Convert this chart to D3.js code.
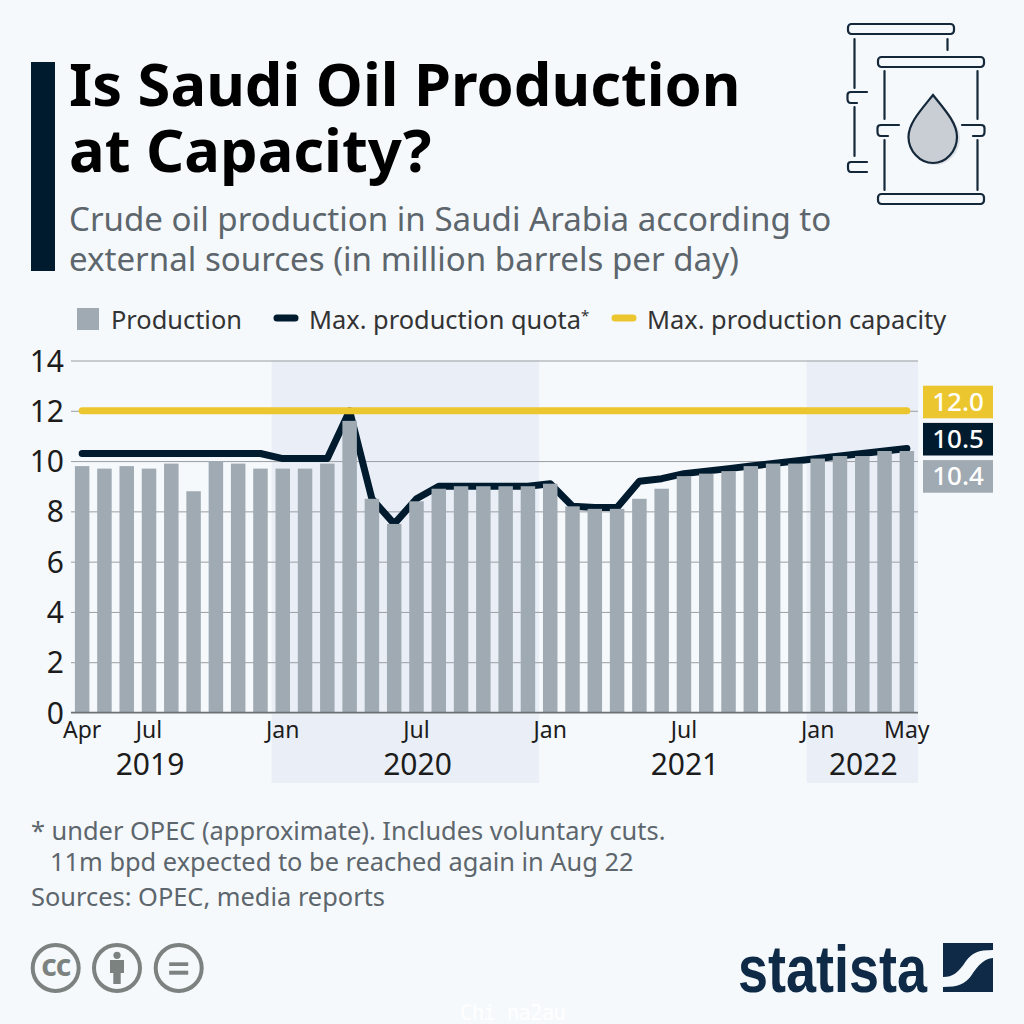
<!DOCTYPE html>
<html>
<head>
<meta charset="utf-8">
<script src="https://cdnjs.cloudflare.com/ajax/libs/d3/7.8.5/d3.min.js"></script>
<style>
html, body { margin: 0; padding: 0; background: #f5f9fc; }
svg { display: block; }
text { font-family: "Noto Sans", "Open Sans", sans-serif; }
</style>
</head>
<body>
<svg id="chart" width="1024" height="1024"></svg>
<script>
//data//
var months = ["Apr19","May19","Jun19","Jul19","Aug19","Sep19","Oct19","Nov19","Dec19",
              "Jan20","Feb20","Mar20","Apr20","May20","Jun20","Jul20","Aug20","Sep20","Oct20","Nov20","Dec20",
              "Jan21","Feb21","Mar21","Apr21","May21","Jun21","Jul21","Aug21","Sep21","Oct21","Nov21","Dec21",
              "Jan22","Feb22","Mar22","Apr22","May22"];
var production = [9.8,9.7,9.8,9.7,9.9,8.8,10.0,9.9,9.7,
                  9.7,9.7,9.9,11.6,8.5,7.5,8.4,8.9,9.0,9.0,9.0,9.0,
                  9.1,8.2,8.1,8.1,8.5,8.9,9.4,9.5,9.6,9.8,9.9,9.9,
                  10.1,10.2,10.2,10.4,10.4];
var quota = [10.3,10.3,10.3,10.3,10.3,10.3,10.3,10.3,10.3,
             10.1,10.1,10.1,12.0,8.5,7.5,8.5,9.0,9.0,9.0,9.0,9.0,
             9.1,8.2,8.15,8.15,9.2,9.3,9.5,9.6,9.7,9.8,9.9,10.0,
             10.1,10.2,10.3,10.4,10.5];
var capacity = months.map(function(){ return 12; });
var yTicks = [0,2,4,6,8,10,12,14];
var monthTicks = [["Apr19","Apr"],["Jul19","Jul"],["Jan20","Jan"],["Jul20","Jul"],["Jan21","Jan"],["Jul21","Jul"],["Jan22","Jan"],["May22","May"]];
// year, first month, last month of the shaded span, month the label sits under
var years = [["2019","Apr19","Dec19","Jul19"],["2020","Jan20","Dec20","Jul20"],["2021","Jan21","Dec21","Jul21"],["2022","Jan22","May22","Mar22"]];
var endLabels = [["12.0",12,"#ecc62e"],["10.5",10.5,"#001a2e"],["10.4",10.4,"#a0aab2"]];

//variables//
var margins = {top: 360.5, right: 106, bottom: 311.5, left: 71};
var width = 1024 - margins.left - margins.right;
var height = 1024 - margins.top - margins.bottom;
var navy = "#001a2e", grey = "#a0aab2", gold = "#ecc62e", textCol = "#1c1c1c", subCol = "#5d666c";

var svg = d3.select("#chart");
var plot = svg.append("g").attr("transform", "translate(" + margins.left + "," + margins.top + ")");

var xScale = d3.scaleBand().domain(months).range([0, width]).paddingInner(0.35).paddingOuter(0.175);
var yScale = d3.scaleLinear().domain([0, 14]).range([height, 0]);
var step = xScale.step();
var xMid = function(m) { return xScale(m) + xScale.bandwidth() / 2; };

//title block//
svg.append("rect").attr("x", 31).attr("y", 62).attr("width", 24).attr("height", 209).attr("fill", navy);
var addText = function(x, y, str, size, color, weight, anchor)
{
    return svg.append("text").attr("x", x).attr("y", y).text(str)
              .attr("font-size", size).attr("fill", color)
              .attr("font-weight", weight || 400)
              .attr("text-anchor", anchor || "start");
};
addText(69, 106, "Is Saudi Oil Production", 59.6, "#000", 700);
addText(69, 172, "at Capacity?", 59.6, "#000", 700);
addText(69, 231, "Crude oil production in Saudi Arabia according to", 33.1, subCol);
addText(69, 271, "external sources (in million barrels per day)", 33.1, subCol);

//legend//
svg.append("rect").attr("x", 77).attr("y", 308).attr("width", 22).attr("height", 22).attr("fill", grey);
addText(111, 329, "Production", 25.4, "#333");
svg.append("line").attr("x1", 277).attr("x2", 295).attr("y1", 318).attr("y2", 318)
   .attr("stroke", navy).attr("stroke-width", 7).attr("stroke-linecap", "round");
var quotaLabel = addText(309, 329, "Max. production quota", 25.4, "#333");
quotaLabel.append("tspan").text("*").attr("font-size", 15).attr("dy", -8);
svg.append("line").attr("x1", 615).attr("x2", 633).attr("y1", 318).attr("y2", 318)
   .attr("stroke", gold).attr("stroke-width", 7).attr("stroke-linecap", "round");
addText(647, 329, "Max. production capacity", 25.4, "#333");

//year shading//
plot.selectAll("rect.year")
    .data(years.filter(function(d, i) { return i % 2 == 1; }))
    .enter()
    .append("rect")
    .attr("class", "year")
    .attr("x", function(d) { return xScale(d[1]) - xScale.step() * 0.175; })
    .attr("width", function(d) { return xScale(d[2]) - xScale(d[1]) + step; })
    .attr("y", 0)
    .attr("height", 422.5)
    .attr("fill", "#eaeff7");

//gridlines and y axis//
var yAxis = d3.axisLeft(yScale).tickValues(yTicks).tickSize(-width).tickPadding(9).tickFormat(d3.format("d"));
var yG = plot.append("g").call(yAxis);
yG.select(".domain").remove();
yG.selectAll("line").attr("stroke", "#9a9ea2").attr("stroke-width", 1);
yG.selectAll("text").attr("font-size", 30).attr("fill", textCol).attr("x", -7).attr("dy", "0.35em");

//bars//
plot.selectAll("rect.bar")
    .data(months)
    .enter()
    .append("rect")
    .attr("class", "bar")
    .attr("x", function(d) { return xScale(d); })
    .attr("width", xScale.bandwidth())
    .attr("y", function(d, i) { return yScale(production[i]); })
    .attr("height", function(d, i) { return height - yScale(production[i]); })
    .attr("fill", grey);

//baseline//
plot.append("line").attr("x1", 0).attr("x2", width).attr("y1", height).attr("y2", height)
    .attr("stroke", "#6b7074").attr("stroke-width", 1.5);

//lines//
var lineGen = function(values)
{
    return d3.line().x(function(d) { return xMid(d); })
                    .y(function(d, i) { return yScale(values[i]); })(months);
};
// the bars sit over the quota line in the reference
plot.insert("path", "rect.bar")
    .attr("d", lineGen(quota))
    .attr("fill", "none").attr("stroke", navy).attr("stroke-width", 7)
    .attr("stroke-linecap", "round").attr("stroke-linejoin", "round");
plot.append("path")
    .attr("d", lineGen(capacity))
    .attr("fill", "none").attr("stroke", gold).attr("stroke-width", 7)
    .attr("stroke-linecap", "round");

//x labels//
var xAxis = d3.axisBottom(xScale)
              .tickValues(monthTicks.map(function(d) { return d[0]; }))
              .tickSize(0).tickPadding(9)
              .tickFormat(function(d) { return monthTicks.find(function(t) { return t[0] == d; })[1]; });
var xG = plot.append("g").attr("transform", "translate(0," + height + ")").call(xAxis);
xG.select(".domain").remove();
xG.selectAll("text").attr("font-size", 23).attr("fill", textCol);

plot.selectAll("text.yearLabel")
    .data(years)
    .enter()
    .append("text")
    .attr("class", "yearLabel")
    .attr("x", function(d) { return xMid(d[3]) + 1; })
    .attr("y", 414.5)
    .attr("text-anchor", "middle")
    .attr("font-size", 30)
    .attr("fill", textCol)
    .text(function(d) { return d[0]; });

//end labels//
var endG = plot.selectAll("g.endLabel")
    .data(endLabels)
    .enter()
    .append("g")
    .attr("class", "endLabel")
    .attr("transform", function(d, i) { return "translate(" + (width + 5) + "," + (25.2 + i * 37.2) + ")"; });
endG.append("rect").attr("width", 70).attr("height", 32.6).attr("fill", function(d) { return d[2]; });
endG.append("text").attr("x", 35).attr("y", 25).attr("text-anchor", "middle")
    .attr("font-size", 26).attr("font-weight", 500).attr("fill", "#fff")
    .text(function(d) { return d[0]; });

//notes//
addText(31, 840, "* under OPEC (approximate). Includes voluntary cuts.", 25.4, subCol);
addText(50, 871, "11m bpd expected to be reached again in Aug 22", 25.4, subCol);
addText(31, 906, "Sources: OPEC, media reports", 25.4, subCol);

//cc icons//
var ccCol = "#7c8280";
[[55.7,"cc"],[117,"by"],[178.7,"eq"]].forEach(function(c)
{
    var g = svg.append("g").attr("transform", "translate(" + c[0] + ",968)");
    g.append("circle").attr("r", 23).attr("fill", "none").attr("stroke", ccCol).attr("stroke-width", 4);
    if (c[1] == "cc") {
        g.append("text").attr("text-anchor", "middle").attr("y", 8).attr("font-size", 30)
         .attr("font-weight", 700).attr("letter-spacing", -1).attr("fill", ccCol).text("cc");
    }
    if (c[1] == "by") {
        g.append("circle").attr("cy", -12.7).attr("r", 3.6).attr("fill", ccCol);
        g.append("path").attr("fill", ccCol).attr("d", "M-7,-8H7V5H3.7V16H-3.7V5H-7Z");
    }
    if (c[1] == "eq") {
        g.append("rect").attr("x", -9.5).attr("y", -5.7).attr("width", 19).attr("height", 3.7).attr("fill", ccCol);
        g.append("rect").attr("x", -9.5).attr("y", 2.7).attr("width", 19).attr("height", 4).attr("fill", ccCol);
    }
});

//statista logo//
var logoCol = "#0f2a47";
svg.append("text").attr("x", 738).attr("y", 992).attr("textLength", 189).attr("lengthAdjust", "spacingAndGlyphs")
   .attr("font-size", 66).attr("font-weight", 700).attr("fill", logoCol)
   .style("font-family", "'Liberation Sans Narrow', 'Liberation Sans', sans-serif")
   .text("statista");
svg.append("path").attr("fill", logoCol)
   .attr("d", "M943,943H993V950C978,950 972,953 966,961C958,973 953,977 943,977Z");
svg.append("path").attr("fill", logoCol)
   .attr("d", "M993,958V992H943V987C958,987 965,984 971,976C979,964 984,959 993,958Z");

//watermark//
svg.append("text").attr("x", 460).attr("y", 1020).attr("textLength", 106)
   .attr("font-size", 21).attr("fill", "#fff")
   .style("font-family", "'DejaVu Sans Mono', monospace")
   .text("Chi na2au");

//oil barrels//
svg.append("path").attr("fill", "#dde1e5").attr("d", "M935,97C947,112 960,124 960,138C960,152 949,165 935,165C921,165 910,152 910,138C910,124 923,112 935,97Z");
var icon = svg.append("g").attr("fill", "none").attr("stroke", "#14283a").attr("stroke-width", 2.2).attr("stroke-linecap", "round");
var iconRect = function(x, y, w, h) { icon.append("rect").attr("x", x).attr("y", y).attr("width", w).attr("height", h).attr("rx", 3.5); };
var iconPath = function(d) { icon.append("path").attr("d", d); };
iconRect(848, 24, 106, 10);
iconRect(878, 57, 106, 10);
iconRect(878, 194, 106, 10);
iconPath("M854.5,39V88M854.5,107V156M947.5,39V50");
iconPath("M884.5,71V119M884.5,140V190M977.5,71V119M977.5,140V190");
iconPath("M867,92H851Q847.5,92 847.5,95V99Q847.5,103 851,103H857");
iconPath("M867,162H851Q848,162 848,165V168Q848,172 851,172H867");
iconPath("M899,125H881Q877.5,125 877.5,128V132Q877.5,136 881,136H888");
iconPath("M962,125H981Q984.5,125 984.5,128V132Q984.5,136 981,136H973");
icon.append("path").attr("fill", "#c9ced4").attr("d", "M933,95C945,110 957,123 957,137C957,151 946,163 933,163C920,163 908.5,151 908.5,137C908.5,123 921,110 933,95Z");
</script>
</body>
</html>
